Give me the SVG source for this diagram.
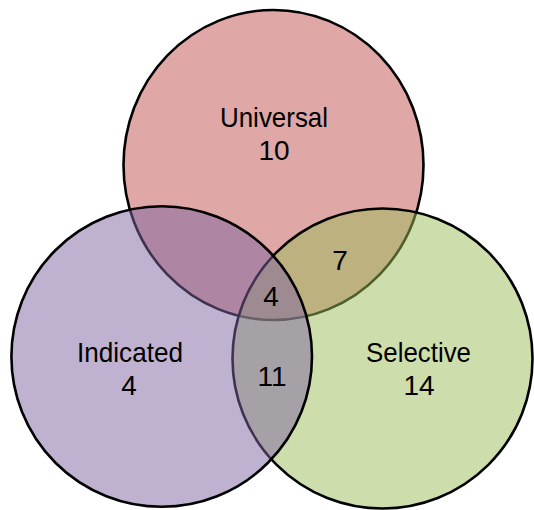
<svg xmlns="http://www.w3.org/2000/svg" width="534" height="510" viewBox="0 0 534 510">
<style>
.c{stroke:#000;stroke-width:2.6;fill-opacity:0.5}
.t{font-family:"Liberation Sans",Arial,sans-serif;font-size:28px;fill:#000;text-anchor:middle}
</style>
<rect width="534" height="510" fill="#fff"/>
<g id="universal">
<ellipse class="c" cx="273.5" cy="165" rx="150" ry="155" fill="#c0504d"/>
</g>
<g id="selective">
<circle class="c" cx="382.5" cy="358.5" r="150" fill="#9bbb59"/>
</g>
<g id="indicated">
<circle class="c" cx="161.7" cy="356.5" r="150.3" fill="#8064a2"/>
</g>
<g id="labels">
<text class="t" x="274" y="127" textLength="108" lengthAdjust="spacingAndGlyphs">Universal</text>
<text class="t" x="274" y="160">10</text>
<text class="t" x="130" y="362" textLength="106" lengthAdjust="spacingAndGlyphs">Indicated</text>
<text class="t" x="129" y="395">4</text>
<text class="t" x="418.5" y="362" textLength="105" lengthAdjust="spacingAndGlyphs">Selective</text>
<text class="t" x="419" y="395">14</text>
<text class="t" x="340" y="270">7</text>
<text class="t" x="271" y="306">4</text>
<text class="t" x="272" y="386">11</text>
</g>
</svg>
